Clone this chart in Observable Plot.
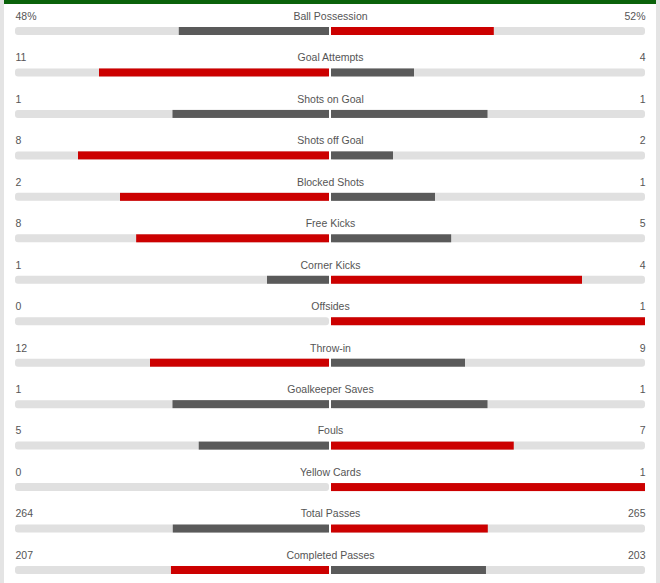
<!DOCTYPE html>
<html>
<head>
<meta charset="utf-8">
<script src="https://cdn.jsdelivr.net/npm/d3@7"></script>
<script src="https://cdn.jsdelivr.net/npm/@observablehq/plot@0.6"></script>
<style>
  html, body { margin: 0; padding: 0; background: #fff; }
  #wrap { position: relative; width: 660px; height: 583px; overflow: hidden; }
  #edgeL { position: absolute; left: 0; top: 0; width: 4px; height: 583px; background: #e4e4e4; }
  #edgeR { position: absolute; right: 0; top: 0; width: 4px; height: 583px; background: #e4e4e4; }
  #topbar { position: absolute; left: 4px; right: 4px; top: 0; height: 4px; background: #0a620a; }
  #chart { position: absolute; left: 0; top: 0; }
</style>
</head>
<body>
<div id="wrap">
  <div id="chart"></div>
  <div id="edgeL"></div>
  <div id="edgeR"></div>
  <div id="topbar"></div>
</div>
<script>
const categories = ["Ball Possession","Goal Attempts","Shots on Goal","Shots off Goal","Blocked Shots","Free Kicks","Corner Kicks","Offsides","Throw-in","Goalkeeper Saves","Fouls","Yellow Cards","Total Passes","Completed Passes"];
const homeValues = [48, 11, 1, 8, 2, 8, 1, 0, 12, 1, 5, 0, 264, 207];
const awayValues = [52, 4, 1, 2, 1, 5, 4, 1, 9, 1, 7, 1, 265, 203];
const homeLabels = ["48%","11","1","8","2","8","1","0","12","1","5","0","264","207"];
const awayLabels = ["52%","4","1","2","1","5","4","1","9","1","7","1","265","203"];

const RED = "#cc0000", GREY = "#5a5a5a", TRACK = "#e0e0e0", TEXT = "#555";

const rows = categories.map((c, i) => {
  const h = homeValues[i], a = awayValues[i], t = h + a;
  return {
    cat: c,
    hf: t ? h / t : 0,
    af: t ? a / t : 0,
    hc: h > a ? RED : GREY,
    ac: a > h ? RED : GREY,
    hl: homeLabels[i],
    al: awayLabels[i]
  };
});

const FONT = "'Liberation Sans', Arial, sans-serif";

const chart = Plot.plot({
  width: 660,
  height: 583,
  marginLeft: 15,
  marginRight: 15,
  marginTop: 27,
  marginBottom: 9,
  x: { domain: [-1, 1], axis: null },
  y: { domain: categories, axis: null, paddingInner: 0.807, paddingOuter: 0, round: false },
  style: { fontFamily: FONT, fontSize: "10.5px", background: "transparent" },
  marks: [
    Plot.barX(rows, { y: "cat", x1: -1, x2: 0, fill: TRACK, insetRight: 1, rx: 3 }),
    Plot.barX(rows, { y: "cat", x1: 0, x2: 1, fill: TRACK, insetLeft: 1, rx: 3 }),
    Plot.barX(rows, { y: "cat", x1: d => -d.hf, x2: 0, fill: d => d.hc, insetRight: 1 }),
    Plot.barX(rows, { y: "cat", x1: 0, x2: d => d.af, fill: d => d.ac, insetLeft: 1 }),
    Plot.text(rows, { y: "cat", x: 0, text: "cat", dy: -15, fill: TEXT, textAnchor: "middle", fontFamily: FONT, fontSize: 10.5 }),
    Plot.text(rows, { y: "cat", x: -1, text: "hl", dy: -15, fill: TEXT, textAnchor: "start", fontFamily: FONT, fontSize: 10.5 }),
    Plot.text(rows, { y: "cat", x: 1, text: "al", dy: -15, fill: TEXT, textAnchor: "end", fontFamily: FONT, fontSize: 10.5 })
  ]
});
document.getElementById("chart").appendChild(chart);
</script>
</body>
</html>
